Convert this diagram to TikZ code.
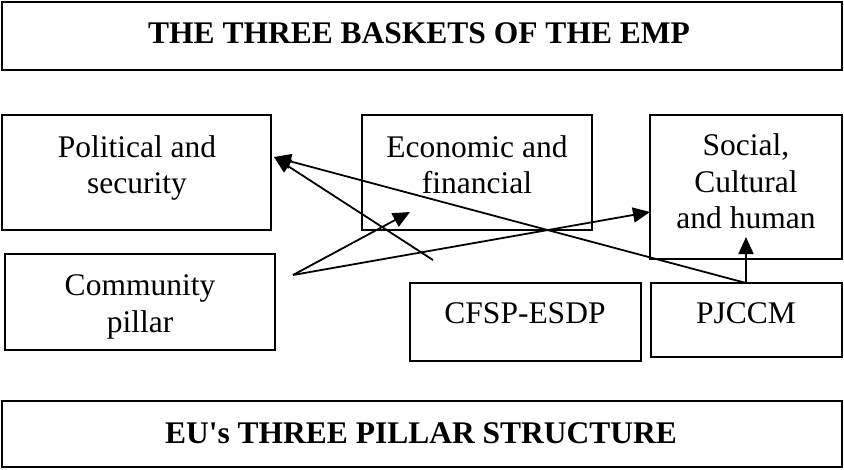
\documentclass[tikz,border=0pt]{standalone}
\usepackage{fontspec}
\setmainfont{Liberation Serif}
\usetikzlibrary{arrows.meta}
\begin{document}
\begin{tikzpicture}[x=1pt,y=-1pt,
  box/.style={draw,line width=1.8pt},
  bigbox/.style={draw,line width=2.6pt},
  txt/.style={anchor=base,inner sep=0pt,font=\fontsize{31.5}{37.8}\selectfont},
  ttl/.style={anchor=base,inner sep=0pt,font=\fontsize{31.5}{37.8}\selectfont\bfseries},
  conn/.style={line width=1.8pt,-{Triangle[length=17pt,width=15pt]}}]
\useasboundingbox (0,0) rectangle (844,469);
% boxes
\draw[bigbox] (2,2) rectangle (842,70);
\node[ttl] (toptxt) at (419,43) {THE THREE BASKETS OF THE EMP};
\draw[box] (2,115) rectangle (271,230);
\node[txt] (pol1) at (137,157) {Political and};
\node[txt] (pol2) at (137,193) {security};
\draw[box] (362,115) rectangle (592,230);
\node[txt] (eco1) at (477,157) {Economic and};
\node[txt] (eco2) at (477,193) {financial};
\draw[box] (650,115) rectangle (842,259);
\coordinate (socw) at (650,212);
\coordinate (socin) at (746,237);
\node[txt] (soc1) at (746,155) {Social,};
\node[txt] (soc2) at (746,192) {Cultural};
\node[txt] (soc3) at (746,228) {and human};
\draw[box] (5,254) rectangle (275,350);
\node[txt] (com1) at (140,295) {Community};
\node[txt] (com2) at (140,332) {pillar};
\draw[box] (410,283) rectangle (641,361);
\node[txt] (cfsp) at (525,323) {CFSP-ESDP};
\draw[box] (651,283) rectangle (842,357);
\coordinate (pjn) at (746,283);
\node[txt] (pj) at (746,323) {PJCCM};
\draw[bigbox] (2,401) rectangle (842,467);
\node[ttl] (bottxt) at (421,443) {EU\textquotesingle s THREE PILLAR STRUCTURE};
% connector points
\coordinate (poltip) at (274,157);
\coordinate (ecotip) at (410,212);
\coordinate (comsrc) at (293,275);
\coordinate (free) at (433,260);
% connectors
\draw[conn] (pjn) -- (poltip);
\draw[conn] (free) -- (poltip);
\draw[conn] (comsrc) -- (ecotip);
\draw[conn] (comsrc) -- (socw);
\draw[conn] (pjn) -- (socin);
\end{tikzpicture}
\end{document}
